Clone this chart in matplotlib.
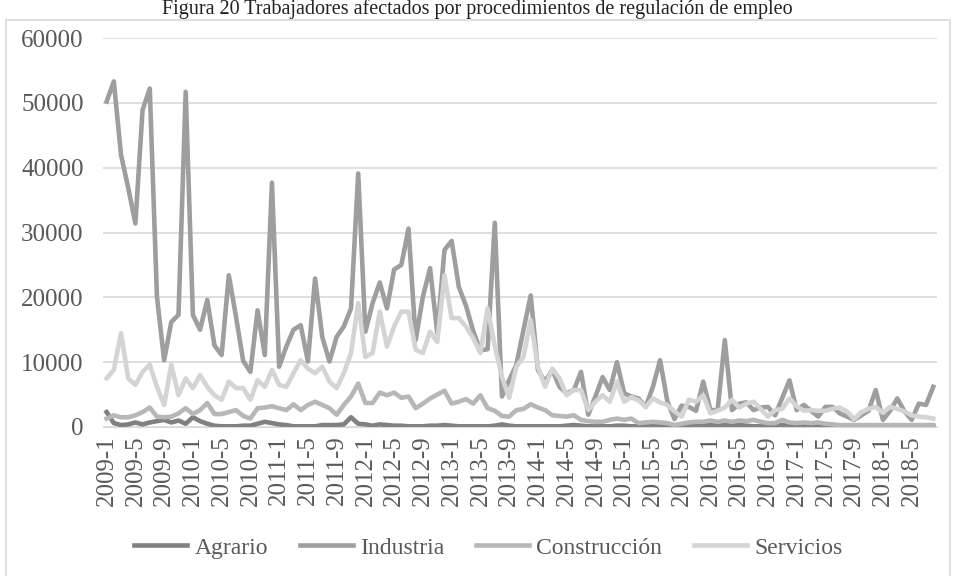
import matplotlib.pyplot as plt
from matplotlib.patches import Rectangle

plt.rcParams['font.family'] = ['Liberation Serif', 'DejaVu Serif']

# monthly categories 2009-1 .. 2018-8
months = [str(y) + '-' + str(m) for y in range(2009, 2019) for m in range(1, 13)][:116]

agrario = [2300, 600, 300, 400, 700, 400, 700, 900, 1100, 700,
           1000, 500, 1500, 900, 500, 200, 100, 100, 100, 200,
           200, 500, 800, 600, 400, 300, 100, 100, 100, 100,
           300, 300, 300, 400, 1500, 500, 400, 200, 400, 300,
           200, 200, 100, 100, 100, 200, 200, 300, 200, 100,
           100, 100, 100, 100, 200, 400, 200, 100, 100, 100,
           100, 100, 100, 100, 200, 300, 200, 100, 100, 100,
           100, 200, 200, 100, 100, 100, 200, 100, 100, 100,
           100, 200, 300, 200, 300, 200, 300, 200, 300, 200,
           100, 100, 100, 200, 300, 100, 100, 100, 100, 100,
           100, 100, 100, 100, 100, 100, 100, 100, 100, 100,
           100, 100, 100, 100, 100, 100]

industria = [50200, 53300, 42000, 36900, 31400, 48900, 52200, 20100, 10300, 16200,
             17300, 51700, 17300, 15000, 19600, 12600, 11100, 23400, 17000, 10200,
             8500, 18000, 11100, 37700, 9300, 12400, 15000, 15700, 10100, 22900,
             13900, 10100, 13900, 15500, 18300, 39100, 14700, 19100, 22300, 18300,
             24300, 25000, 30600, 13400, 20100, 24500, 14500, 27300, 28700, 21600,
             18700, 14800, 11800, 12000, 31500, 4700, 7200, 9600, 15000, 20300,
             8800, 7000, 8800, 6200, 5200, 5700, 8500, 1900, 4700, 7700,
             5700, 10000, 5200, 4700, 4400, 3100, 6200, 10300, 4000, 1200,
             3300, 3100, 2500, 7000, 2600, 2600, 13400, 2600, 3600, 3800,
             2600, 3000, 3100, 1800, 4500, 7200, 2600, 3400, 2500, 1600,
             3100, 3100, 2100, 1600, 1100, 1800, 2500, 5700, 1100, 2500,
             4400, 2400, 1100, 3600, 3400, 6200]

construccion = [1300, 1800, 1500, 1500, 1800, 2300, 3000, 1600, 1500, 1600,
                2100, 2900, 2000, 2600, 3700, 2000, 2000, 2300, 2600, 1700,
                1300, 2900, 3000, 3200, 2900, 2600, 3500, 2600, 3400, 3900,
                3400, 2900, 1900, 3400, 4700, 6700, 3700, 3700, 5300, 4900,
                5300, 4500, 4700, 2900, 3600, 4400, 5000, 5600, 3600, 3900,
                4300, 3600, 4900, 2900, 2500, 1700, 1600, 2600, 2800, 3500,
                3000, 2600, 1800, 1700, 1600, 1800, 1100, 900, 800, 800,
                1100, 1300, 1100, 1300, 600, 700, 800, 700, 600, 300,
                500, 700, 800, 800, 1000, 800, 1000, 800, 1000, 900,
                1100, 800, 600, 600, 1100, 700, 600, 700, 600, 700,
                500, 400, 300, 300, 300, 300, 300, 300, 300, 300,
                300, 300, 300, 300, 300, 300]

servicios = [7500, 8800, 14500, 7500, 6500, 8500, 9600, 6200, 3400, 9600,
             4900, 7500, 6000, 8000, 6200, 4900, 4200, 7000, 6000, 6000,
             4200, 7200, 6200, 8800, 6500, 6200, 8300, 10300, 9000, 8300,
             9300, 7000, 6000, 8300, 11400, 19100, 10800, 11400, 17800, 12400,
             15500, 17800, 17800, 11900, 11400, 14700, 13100, 23400, 16800, 16800,
             15500, 13700, 11400, 18300, 12500, 7700, 4500, 9300, 10800, 16500,
             9300, 6200, 9000, 7500, 4900, 5700, 5700, 2600, 3900, 4900,
             3900, 7000, 3900, 4600, 4100, 3100, 4400, 3800, 3400, 2400,
             1600, 4200, 3900, 4900, 2100, 2500, 3000, 4200, 3000, 3600,
             3900, 2800, 1600, 2600, 2800, 4400, 3200, 2500, 2600, 2500,
             2500, 2800, 3000, 2400, 1200, 2300, 2800, 3100, 2200, 3100,
             2800, 2400, 1800, 1600, 1500, 1300]

series = [('Agrario', agrario, '#808080'),
          ('Industria', industria, '#9e9e9e'),
          ('Construcción', construccion, '#b7b7b7'),
          ('Servicios', servicios, '#d4d4d4')]

fig = plt.figure(figsize=(9.54, 5.76), dpi=100)
ax = fig.add_axes([0.108, 0.2587, 0.874, 0.6753])

x = list(range(len(months)))
for name, vals, col in series:
    ax.plot(x, vals, color=col, lw=3.3, label=name, solid_joinstyle='round')

ax.set_xlim(-0.5, len(months) - 0.5)
ax.set_ylim(0, 60000)
ax.set_yticks(range(0, 60001, 10000))
ax.set_xticks(x[::4])
ax.set_xticklabels(months[::4], rotation=90)
ax.grid(axis='y', color='#d9d9d9', lw=1.2)
ax.set_axisbelow(True)
for s in ['top', 'right', 'left']:
    ax.spines[s].set_visible(False)
ax.spines['bottom'].set_color('#d9d9d9')
ax.tick_params(axis='y', length=0, labelsize=18, colors='#595959', pad=14)
ax.tick_params(axis='x', length=0, labelsize=18, colors='#595959', pad=6)

ax.legend(loc='center', bbox_to_anchor=(0.462, -0.311),
          ncol=4, frameon=False, fontsize=17, handlelength=2.25, columnspacing=1.35,
          handletextpad=0.3, labelcolor='#595959')

fig.text(0.5, 0.9765, 'Figura 20 Trabajadores afectados por procedimientos de regulación de empleo',
         ha='center', va='baseline', fontsize=14.5, color='#222222')

fig.patches.append(Rectangle((0.006, -0.01), 0.99, 0.975, transform=fig.transFigure,
                             fill=False, edgecolor='#d9d9d9', lw=1.2))

fig.savefig('out.png', dpi=100)
